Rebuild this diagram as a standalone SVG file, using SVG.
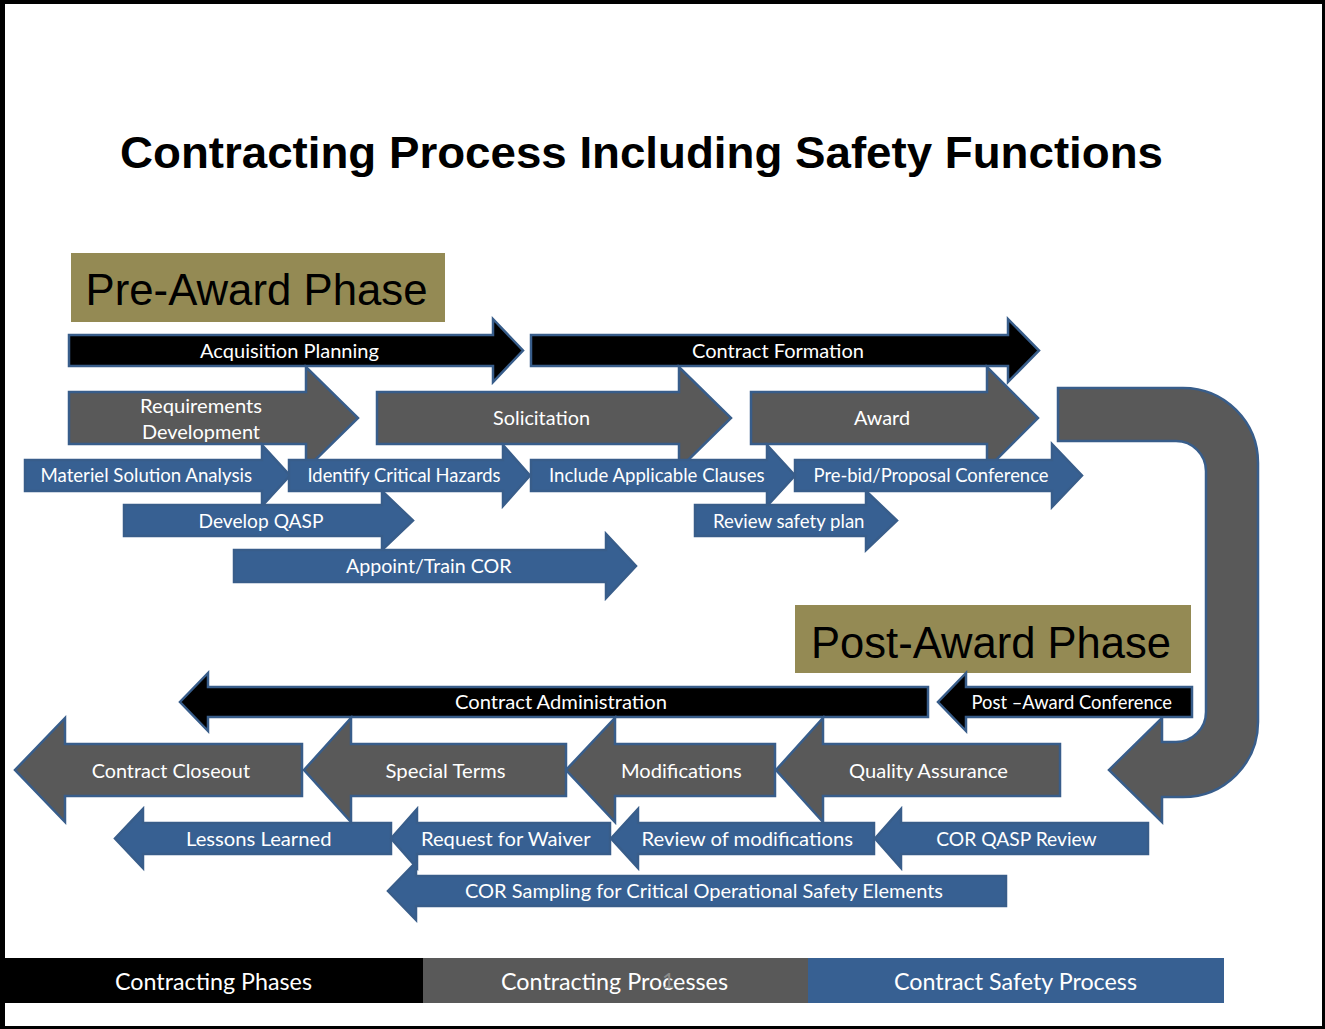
<svg xmlns="http://www.w3.org/2000/svg" width="1325" height="1029" viewBox="0 0 1325 1029">
<style>
.blk{fill:#000000;stroke:#385D8A;stroke-width:2.5;stroke-linejoin:miter}
.gry{fill:#595959;stroke:#385D8A;stroke-width:2.5;stroke-linejoin:miter}
.blu{fill:#376092;stroke:#385D8A;stroke-width:2.5;stroke-linejoin:miter}
.lbl{font-family:Lato,"Open Sans","DejaVu Sans",sans-serif;fill:#ffffff;font-size:19px}
.lg{font-family:Lato,"Open Sans","DejaVu Sans",sans-serif;fill:#ffffff;font-size:20px}
.leg{font-family:Lato,"Open Sans","DejaVu Sans",sans-serif;fill:#ffffff;font-size:23px}
.phase{font-family:"Liberation Sans",Arial,sans-serif;fill:#000000;font-size:45px}
.title{font-family:"Liberation Sans",Arial,sans-serif;fill:#000000;font-size:44px;font-weight:bold}
</style>
<rect x="0" y="0" width="1325" height="1029" fill="#ffffff"/>
<g id="frame">
<rect x="0" y="0" width="5" height="1029" fill="#000"/>
<rect x="0" y="0" width="1325" height="4" fill="#000"/>
<rect x="1322" y="0" width="3" height="1029" fill="#000"/>
<rect x="0" y="1026" width="1325" height="3" fill="#000"/>
</g>
<text id="title" class="title" x="120" y="168" textLength="1043" lengthAdjust="spacingAndGlyphs">Contracting Process Including Safety Functions</text>

<g id="pre-award-phase">
<rect x="71" y="253" width="374" height="69" fill="#948A54"/>
<text class="phase" x="85.5" y="305" textLength="342" lengthAdjust="spacingAndGlyphs">Pre-Award Phase</text>
</g>
<g id="post-award-phase">
<rect x="795" y="605" width="396" height="68" fill="#948A54"/>
<text class="phase" x="811" y="657.5" textLength="360" lengthAdjust="spacingAndGlyphs">Post-Award Phase</text>
</g>

<g id="connectors">
<path id="u-turn" class="gry" d="M1058,388 H1183 A75,75 0 0 1 1258,463 V722 A75,75 0 0 1 1183,797 H1162 V822 L1109,770 L1162,718 V742 H1176 A30,30 0 0 0 1206,712 V471 A30,30 0 0 0 1176,441 H1058 Z"/>
</g>

<g id="acquisition-planning"><path class="blk" d="M69,335 H493 V319 L523,350.5 L493,382 V366 H69 Z"/><text class="lg" x="200" y="357.5" textLength="179" lengthAdjust="spacingAndGlyphs">Acquisition Planning</text></g>
<g id="contract-formation"><path class="blk" d="M531,335 H1008 V319 L1039,350.5 L1008,382 V366 H531 Z"/><text class="lg" x="692" y="357.5" textLength="172" lengthAdjust="spacingAndGlyphs">Contract Formation</text></g>

<g id="requirements-development"><path class="gry" d="M69,392 H306 V367 L358,418 L306,469 V444 H69 Z"/><text class="lg" x="140" y="413" textLength="122" lengthAdjust="spacingAndGlyphs">Requirements</text><text class="lg" x="142" y="439" textLength="118" lengthAdjust="spacingAndGlyphs">Development</text></g>
<g id="solicitation"><path class="gry" d="M377,392 H679 V367 L731,418 L679,469 V444 H377 Z"/><text class="lg" x="493" y="425" textLength="97" lengthAdjust="spacingAndGlyphs">Solicitation</text></g>
<g id="award"><path class="gry" d="M751,392 H987 V367 L1038,418 L987,469 V444 H751 Z"/><text class="lg" x="854" y="425" textLength="56" lengthAdjust="spacingAndGlyphs">Award</text></g>

<g id="materiel-solution-analysis"><path class="blu" d="M25,460 H262 V445 L290,475.5 L262,506 V491 H25 Z"/><text class="lbl" x="40.5" y="482" textLength="211.5" lengthAdjust="spacingAndGlyphs">Materiel Solution Analysis</text></g>
<g id="identify-critical-hazards"><path class="blu" d="M289,460 H503 V445 L530,475.5 L503,506 V491 H289 Z"/><text class="lbl" x="307.5" y="482" textLength="193" lengthAdjust="spacingAndGlyphs">Identify Critical Hazards</text></g>
<g id="include-applicable-clauses"><path class="blu" d="M531,460 H767 V445 L795,475.5 L767,506 V491 H531 Z"/><text class="lbl" x="549" y="482" textLength="215.5" lengthAdjust="spacingAndGlyphs">Include Applicable Clauses</text></g>
<g id="pre-bid-conference"><path class="blu" d="M795,460 H1052 V444 L1082,475.5 L1052,507 V491 H795 Z"/><text class="lbl" x="813.5" y="482" textLength="235" lengthAdjust="spacingAndGlyphs">Pre-bid/Proposal Conference</text></g>
<g id="develop-qasp"><path class="blu" d="M124,505 H382 V491 L413,520.5 L382,550 V536 H124 Z"/><text class="lbl" x="198.5" y="527.5" textLength="125" lengthAdjust="spacingAndGlyphs">Develop QASP</text></g>
<g id="review-safety-plan"><path class="blu" d="M695,505 H866 V491 L897,520.5 L866,550 V536 H695 Z"/><text class="lbl" x="713" y="527.5" textLength="151.5" lengthAdjust="spacingAndGlyphs">Review safety plan</text></g>
<g id="appoint-train-cor"><path class="blu" d="M234,550 H606 V534 L636,566 L606,598 V582 H234 Z"/><text class="lbl" x="346" y="573" textLength="165.5" lengthAdjust="spacingAndGlyphs">Appoint/Train COR</text></g>

<g id="contract-administration"><path class="blk" d="M928,687 H208 V673 L180,702 L208,731 V717 H928 Z"/><text class="lbl" x="455" y="709" textLength="212" lengthAdjust="spacingAndGlyphs">Contract Administration</text></g>
<g id="post-award-conference"><path class="blk" d="M1192,687 H966 V673 L938,702 L966,731 V717 H1192 Z"/><text class="lbl" x="971.5" y="709" textLength="200.5" lengthAdjust="spacingAndGlyphs">Post –Award Conference</text></g>

<g id="contract-closeout"><path class="gry" d="M302,744 H65 V718 L15,770 L65,822 V796 H302 Z"/><text class="lg" x="91.7" y="777.5" textLength="158.3" lengthAdjust="spacingAndGlyphs">Contract Closeout</text></g>
<g id="special-terms"><path class="gry" d="M566,744 H351 V718 L304,770 L351,822 V796 H566 Z"/><text class="lg" x="385.5" y="777.5" textLength="120" lengthAdjust="spacingAndGlyphs">Special Terms</text></g>
<g id="modifications"><path class="gry" d="M775,744 H615 V718 L566,770 L615,822 V796 H775 Z"/><text class="lg" x="621" y="777.5" textLength="120.6" lengthAdjust="spacingAndGlyphs">Modifications</text></g>
<g id="quality-assurance"><path class="gry" d="M1060,744 H823 V718 L776,770 L823,822 V796 H1060 Z"/><text class="lg" x="849" y="777.5" textLength="159" lengthAdjust="spacingAndGlyphs">Quality Assurance</text></g>

<g id="lessons-learned"><path class="blu" d="M391,823 H143 V809 L115,838.5 L143,868 V854 H391 Z"/><text class="lbl" x="186" y="846" textLength="145.5" lengthAdjust="spacingAndGlyphs">Lessons Learned</text></g>
<g id="request-for-waiver"><path class="blu" d="M610,823 H417 V809 L391,838.5 L417,868 V854 H610 Z"/><text class="lbl" x="421" y="845.5" textLength="169.5" lengthAdjust="spacingAndGlyphs">Request for Waiver</text></g>
<g id="review-of-modifications"><path class="blu" d="M874,823 H638 V809 L611,838.5 L638,868 V854 H874 Z"/><text class="lbl" x="641.5" y="846" textLength="211.5" lengthAdjust="spacingAndGlyphs">Review of modifications</text></g>
<g id="cor-qasp-review"><path class="blu" d="M1148,823 H901 V809 L875,838.5 L901,868 V854 H1148 Z"/><text class="lbl" x="936.3" y="846" textLength="160.4" lengthAdjust="spacingAndGlyphs">COR QASP Review</text></g>
<g id="cor-sampling"><path class="blu" d="M1006,876 H416 V862 L388,891 L416,920 V906 H1006 Z"/><text class="lbl" x="465" y="898" textLength="478" lengthAdjust="spacingAndGlyphs">COR Sampling for Critical Operational Safety Elements</text></g>

<g id="legend">
<rect x="4" y="958" width="419" height="45" fill="#000000"/>
<rect x="423" y="958" width="385" height="45" fill="#595959"/>
<rect x="808" y="958" width="416" height="45" fill="#376092"/>
<text class="leg" x="115" y="990" textLength="197" lengthAdjust="spacingAndGlyphs">Contracting Phases</text>
<text class="leg" x="501" y="990" textLength="227" lengthAdjust="spacingAndGlyphs">Contracting Processes</text>
<text class="leg" x="894" y="990" textLength="243" lengthAdjust="spacingAndGlyphs">Contract Safety Process</text>
<text x="662" y="988" font-family="Lato,'Open Sans',sans-serif" font-size="22" fill="#8a8a8a">1</text>
</g>
</svg>
